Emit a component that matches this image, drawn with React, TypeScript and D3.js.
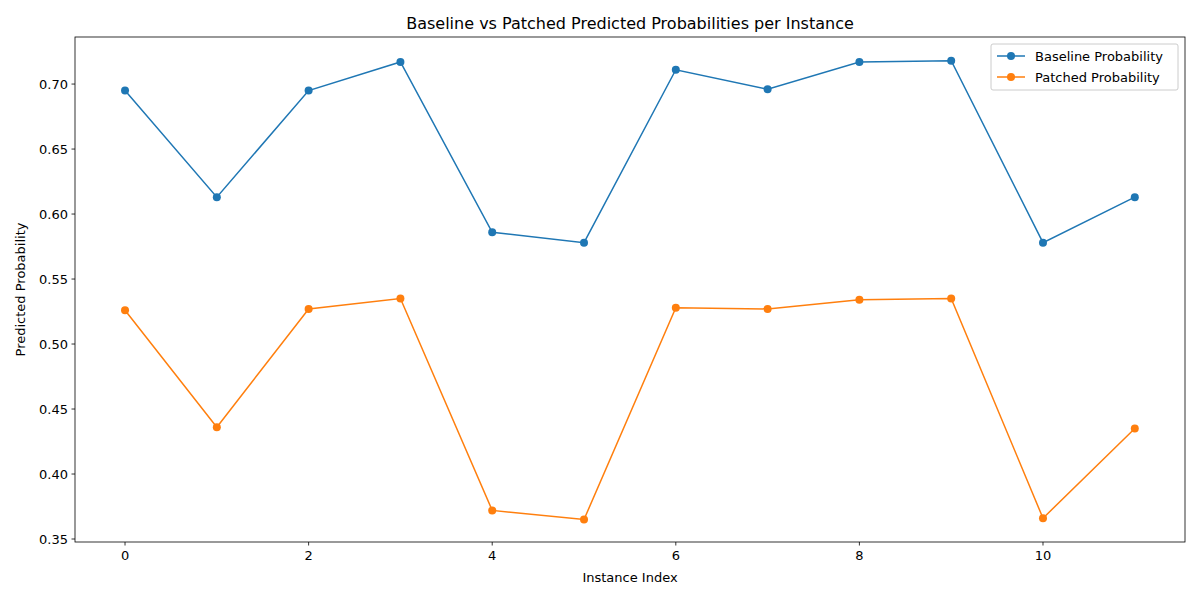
import React from "react";
import * as d3 from "d3";

const indices = [0, 1, 2, 3, 4, 5, 6, 7, 8, 9, 10, 11];
const baseline = [0.695, 0.613, 0.695, 0.717, 0.586, 0.578, 0.711, 0.696, 0.717, 0.718, 0.578, 0.613];
const patched = [0.526, 0.436, 0.527, 0.535, 0.372, 0.365, 0.528, 0.527, 0.534, 0.535, 0.366, 0.435];
const xTicks = [0, 2, 4, 6, 8, 10];
const yTicks = [0.35, 0.4, 0.45, 0.5, 0.55, 0.6, 0.65, 0.7];

export default function App() {
  const L = 75, R = 1185, T = 37, B = 542;
  const x = d3.scaleLinear().domain([-0.545, 11.547]).range([L, R]);
  const y = d3.scaleLinear().domain([0.3477, 0.7362]).range([B, T]);
  const line = d3.line<number>().x((_, i) => x(indices[i])).y((d) => y(d));
  const series = [
    { name: "Baseline Probability", data: baseline, color: "#1f77b4" },
    { name: "Patched Probability", data: patched, color: "#ff7f0e" },
  ];
  const font = "DejaVu Sans, sans-serif";
  return (
    <svg width={1200} height={600} style={{ position: "absolute", left: 0, top: 0 }} fontFamily={font}>
      <rect width={1200} height={600} fill="#fff" />
      {series.map((s) => (
        <g key={s.name}>
          <path d={line(s.data) || ""} fill="none" stroke={s.color} strokeWidth={1.5} />
          {s.data.map((d, i) => (
            <circle key={i} cx={x(indices[i])} cy={y(d)} r={4} fill={s.color} />
          ))}
        </g>
      ))}
      <rect x={L} y={T} width={R - L} height={B - T} fill="none" stroke="#000" strokeWidth={0.8} />
      {xTicks.map((t) => (
        <g key={t}>
          <line x1={x(t)} x2={x(t)} y1={B} y2={B + 3.5} stroke="#000" strokeWidth={0.8} />
          <text x={x(t)} y={B + 18} fontSize={13} textAnchor="middle">{t}</text>
        </g>
      ))}
      {yTicks.map((t) => (
        <g key={t}>
          <line x1={L - 3.5} x2={L} y1={y(t)} y2={y(t)} stroke="#000" strokeWidth={0.8} />
          <text x={L - 7} y={y(t) + 4.5} fontSize={13} textAnchor="end">{t.toFixed(2)}</text>
        </g>
      ))}
      <text x={(L + R) / 2} y={582} fontSize={13} textAnchor="middle">Instance Index</text>
      <text transform={`translate(25,${(T + B) / 2}) rotate(-90)`} fontSize={13} textAnchor="middle">Predicted Probability</text>
      <text x={(L + R) / 2} y={29} fontSize={16} textAnchor="middle">Baseline vs Patched Predicted Probabilities per Instance</text>
      <g transform="translate(991,44)">
        <rect width={187} height={46} fill="#fff" stroke="#ccc" rx={2} />
        {series.map((s, i) => (
          <g key={s.name} transform={`translate(0,${12 + i * 21})`}>
            <line x1={6} x2={34} y1={0} y2={0} stroke={s.color} strokeWidth={1.5} />
            <circle cx={20} cy={0} r={4} fill={s.color} />
            <text x={44} y={4.5} fontSize={13}>{s.name}</text>
          </g>
        ))}
      </g>
    </svg>
  );
}
